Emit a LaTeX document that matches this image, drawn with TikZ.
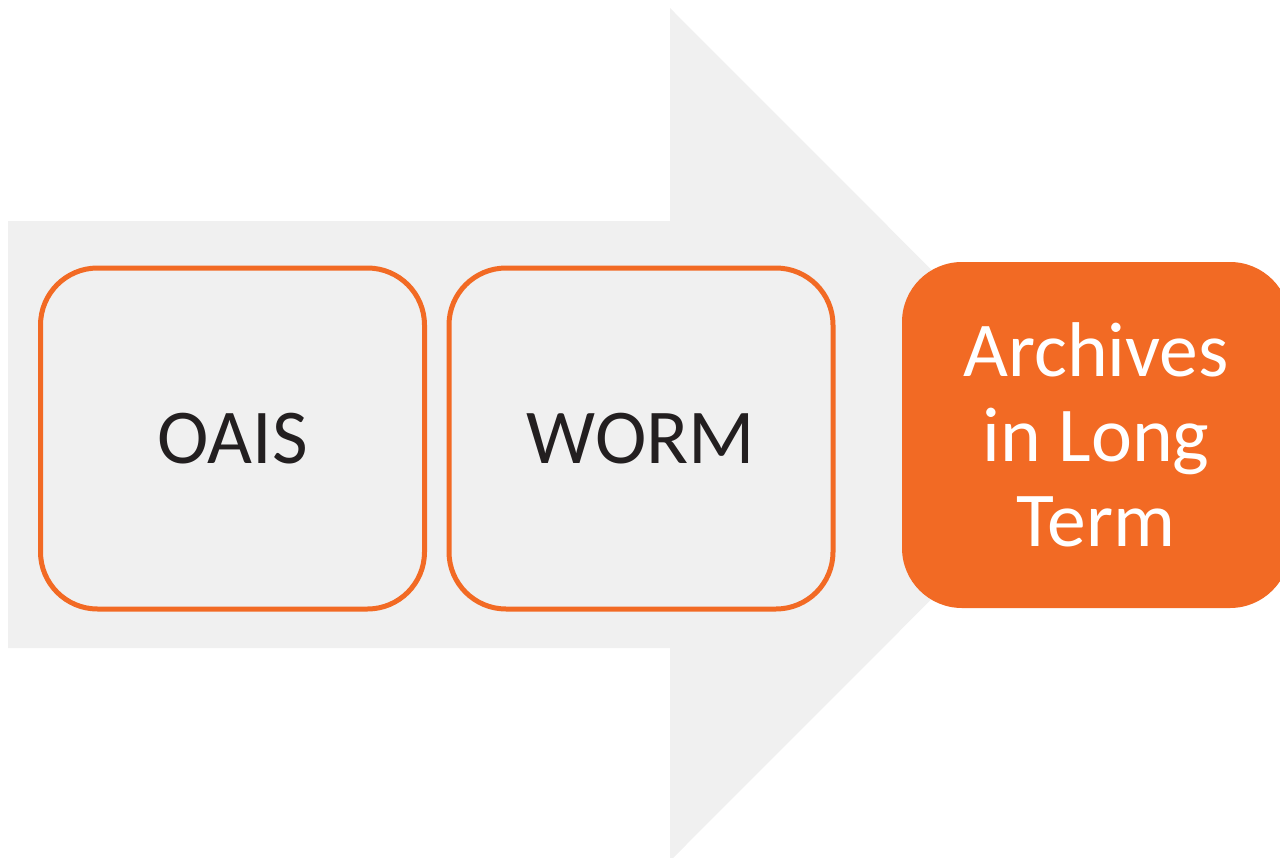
\documentclass[tikz,border=0pt]{standalone}
\usepackage{fontspec}
\setmainfont{Carlito}
\usetikzlibrary{positioning,shapes}
\definecolor{archorange}{HTML}{F26A24}
\definecolor{arrowgray}{HTML}{F0F0F0}
\definecolor{textdark}{HTML}{231F20}
\tikzstyle{stagebox} = [rectangle, rounded corners=28.5pt, minimum width=192pt, minimum height=170.5pt, draw=archorange, line width=2.5pt, text=textdark, font=\fontsize{38.8}{42.5}\selectfont]
\tikzstyle{goalbox} = [rectangle, rounded corners=30pt, minimum width=194pt, minimum height=173pt, fill=archorange, text=white, align=center, font=\fontsize{38.8}{42.5}\selectfont]

\begin{document}
\begin{tikzpicture}[x=0.5pt,y=-0.5pt] %[every node/.style={draw}]
\useasboundingbox (0,0) rectangle (1280,857);
\fill [arrowgray] (8,221) -- (670,221) -- (670,8) -- (1096,434.5) -- (670,861) -- (670,648) -- (8,648) -- cycle;
\draw (232.5,438.5) node (oais) [stagebox] {OAIS};
\draw (641,438.5) node (worm) [stagebox] {WORM};
\draw (1096,435) node (archives) [goalbox] {Archives\\in Long\\Term};
\end{tikzpicture}
\end{document}
